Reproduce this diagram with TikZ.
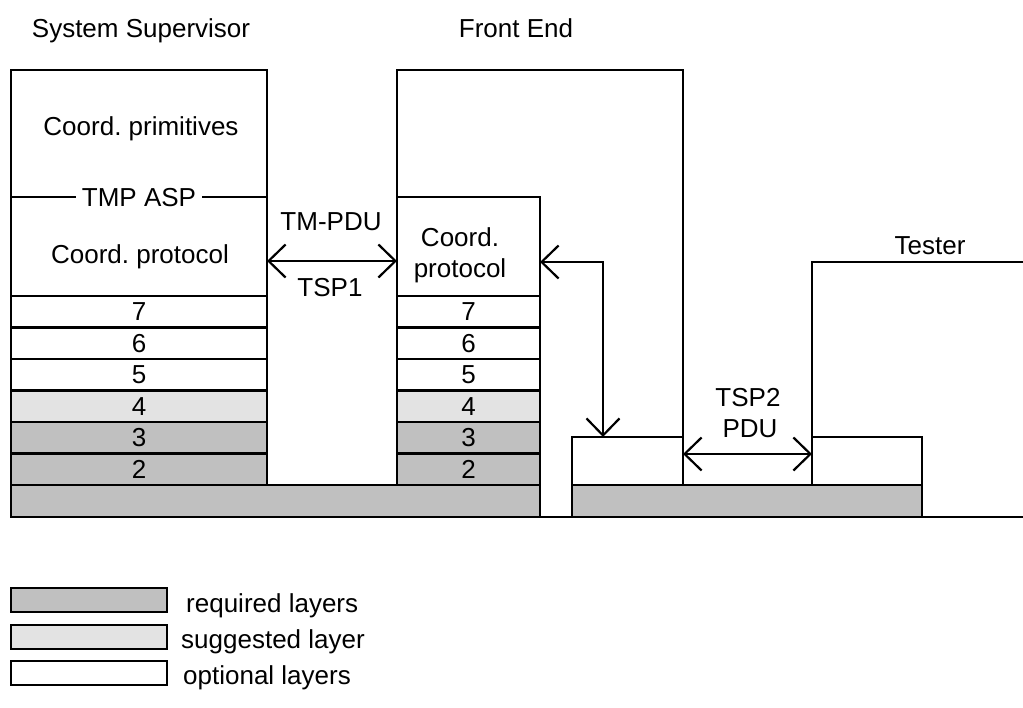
\documentclass[tikz,border=0pt]{standalone}
\usepackage{fontspec}
\setmainfont{Liberation Sans}
\frenchspacing
\usetikzlibrary{arrows.meta}
\definecolor{req}{RGB}{192,192,192}
\definecolor{sug}{RGB}{227,227,227}
\tikzset{
  txt/.style={font=\fontsize{26}{31}\selectfont, inner sep=0pt, anchor=base},
  legtxt/.style={font=\fontsize{26}{31}\selectfont, inner sep=0pt, anchor=base west},
  box/.style={draw, line width=2.7pt, anchor=north west, inner sep=0pt, outer sep=0pt,
    font=\fontsize{26}{31}\selectfont},
  sslayer/.style={box, minimum width=256pt, minimum height=31.5pt},
  felayer/.style={box, minimum width=143pt, minimum height=31.5pt},
  outline/.style={line width=2.7pt, line join=miter},
  tip/.tip={Straight Barb[length=17pt,width=33pt,line width=2.2pt]},
  conn/.style={line width=2.2pt, tip-tip}
}
\begin{document}
\begin{tikzpicture}[x=1pt,y=-1pt]
\useasboundingbox (0,0) rectangle (1023,707);

% headers
\node[txt] (hss) at (141,37) {System Supervisor};
\node[txt] (hfe) at (516,37) {Front End};
\node[txt] (hts) at (930,254) {Tester};

% ground line
\draw[outline] (11,517) -- (1023,517);

% System Supervisor column
\node[box, minimum width=256pt, minimum height=127pt] (ssprim) at (11,70) {};
\node[box, minimum width=256pt, minimum height=99pt] (sscp) at (11,197) {};
\node[txt] (ssprimt) at (141,135) {Coord. primitives};
\node[txt] (sscpt) at (140,263) {Coord. protocol};
\node[txt, fill=white, inner xsep=6pt, inner ysep=2pt] (tmpasp) at (139,206) {TMP ASP};

\node[sslayer] (ss7) at (11,296) {7};
\node[sslayer] (ss6) at (11,327.5) {6};
\node[sslayer] (ss5) at (11,359) {5};
\node[sslayer, fill=sug] (ss4) at (11,390.5) {4};
\node[sslayer, fill=req] (ss3) at (11,422) {3};
\node[sslayer, fill=req] (ss2) at (11,453.5) {2};
\node[box, fill=req, minimum width=529pt, minimum height=32pt] (base1) at (11,485) {};

% Front End
\draw[outline] (397,197) -- (397,70) -- (683,70) -- (683,485);
\node[box, minimum width=143pt, minimum height=99pt] (fecp) at (397,197) {};
\node[txt] (fecpt1) at (460,246) {Coord.};
\node[txt] (fecpt2) at (460,277) {protocol};
\node[felayer] (fe7) at (397,296) {7};
\node[felayer] (fe6) at (397,327.5) {6};
\node[felayer] (fe5) at (397,359) {5};
\node[felayer, fill=sug] (fe4) at (397,390.5) {4};
\node[felayer, fill=req] (fe3) at (397,422) {3};
\node[felayer, fill=req] (fe2) at (397,453.5) {2};

\node[box, minimum width=111pt, minimum height=48pt] (fesm) at (572,437) {};
\node[box, fill=req, minimum width=350pt, minimum height=32pt] (base2) at (572,485) {};

% Tester
\node[box, minimum width=110pt, minimum height=48pt] (tssm) at (812,437) {};
\draw[outline] (tssm.north west) -- (812,262) -- (1023,262);

% connectors
\draw[conn] (sscp.east |- 0,261) -- (fecp.west |- 0,261);
\node[txt] (tmpdu) at (331,230) {TM-PDU};
\node[txt] (tsp1) at (330,296) {TSP1};

\coordinate (feturn) at (603,262);
\draw[conn] (fecp.east |- feturn) -- (feturn) -- (feturn |- fesm.north);

\draw[conn] (fesm.east |- 0,454) -- (tssm.west |- 0,454);
\node[txt] (tsp2) at (748,406) {TSP2};
\node[txt] (pdu) at (750,437) {PDU};

% legend
\node[box, fill=req, minimum width=156pt, minimum height=24pt] (lreq) at (11,588) {};
\node[box, fill=sug, minimum width=156pt, minimum height=24pt] (lsug) at (11,625) {};
\node[box, minimum width=156pt, minimum height=24pt] (lopt) at (11,661) {};
\node[legtxt] (lreqt) at (186,612) {required layers};
\node[legtxt] (lsugt) at (181,648) {suggested layer};
\node[legtxt] (loptt) at (183,684) {optional layers};
\end{tikzpicture}
\end{document}
